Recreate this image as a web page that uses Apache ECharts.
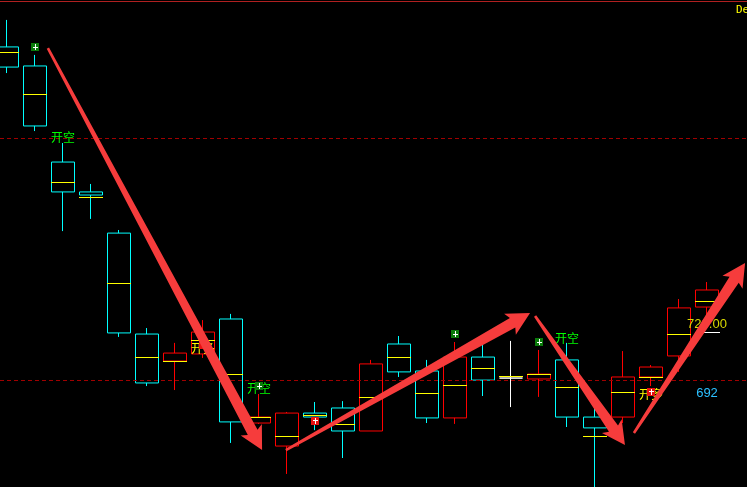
<!DOCTYPE html>
<html><head><meta charset="utf-8">
<script src="https://cdn.jsdelivr.net/npm/echarts@6/dist/echarts.min.js"></script>
<style>html,body{margin:0;padding:0;background:#000;}#c{width:747px;height:487px;}</style>
</head><body><div id="c"></div>
<script>
// ---- data ----
const categories = ['1','2','3','4','5','6','7','8','9','10','11','12','13','14','15','16','17','18','19','20','21','22','23','24','25','26','27'];
// [open, close, low, high]
const ohlc = [
  [848.8, 839.7, 837.0, 861.0],
  [840.2, 813.1, 810.8, 845.2],
  [796.8, 783.3, 765.6, 805.4],
  [783.3, 781.9, 771.1, 786.9],
  [764.7, 719.6, 717.8, 766.1],
  [719.1, 697.0, 695.6, 721.8],
  [706.9, 710.5, 693.8, 715.1],
  [710.1, 720.0, 708.3, 725.4],
  [725.9, 679.4, 669.9, 728.2],
  [678.9, 681.6, 678.5, 692.0],
  [668.5, 683.4, 655.9, 683.9],
  [683.4, 681.6, 675.7, 688.4],
  [685.7, 675.3, 663.1, 688.8],
  [675.3, 705.6, 675.3, 707.4],
  [714.6, 702.0, 699.7, 718.2],
  [702.4, 681.2, 678.9, 707.4],
  [681.2, 708.7, 678.5, 715.5],
  [708.7, 698.3, 691.1, 714.6],
  [699.2, 699.2, 686.1, 716.0],
  [698.8, 701.0, 690.7, 711.9],
  [707.4, 681.6, 677.1, 715.1],
  [681.6, 676.7, 646.4, 687.0],
  [681.6, 699.7, 678.9, 711.4],
  [699.7, 704.2, 695.6, 705.1],
  [709.2, 730.9, 702.0, 734.9],
  [731.3, 739.0, 726.3, 742.6],
  '-'
];
const midPrices = [846.5, 827.5, 787.8, 781.0, 742.2, 708.7, 706.9, 716.4, 701.0, 681.6, 673.0, 682.5, 678.5, 690.7, 708.7, 692.5, 696.1, 703.8, 700.1, 701.0, 695.2, 673.0, 692.9, 699.7, 719.1, 734.0];
const dashedLevels = [807.7, 698.3];
// [candle index, price, text, kind]
const signalLabels = [
  [2, 807.7, '开空', 'short'],
  [7, 712.8, '开多', 'long'],
  [9, 694.7, '开空', 'short'],
  [20, 717.3, '开空', 'short'],
  [23, 691.6, '开多', 'long']
];
// [candle index, price, kind]
const signalIcons = [
  [1, 848.8, 'sell'],
  [9, 695.6, 'sell'],
  [16, 719.1, 'sell'],
  [19, 715.5, 'sell'],
  [7, 714.1, 'buy'],
  [11, 679.8, 'buy'],
  [23, 692.9, 'buy']
];
// [candle index, price, text]
const priceMarks = [
  [25, 720, '720.00'],
  [25, 692, '692']
];
// [fromIndex, fromPrice, toIndex, toPrice]
const arrows = [
  [1.46, 848.3, 9.11, 666.7],
  [9.96, 666.7, 18.68, 728.6],
  [18.86, 727.2, 22.07, 669.0],
  [22.39, 674.4, 26.36, 751.2]
];

// ---- chart ----
const chart = echarts.init(document.getElementById('c'), null, {renderer: 'canvas'});
const CJK = '"Noto Sans CJK SC", sans-serif';

const option = {
  backgroundColor: '#000',
  animation: false,
  grid: {left: -7, top: 0, width: 756, height: 487, outerBoundsMode: 'none', containLabel: false},
  xAxis: [
    {type: 'category', data: categories, boundaryGap: true, show: false},
    {type: 'value', min: -0.5, max: 26.5, show: false}
  ],
  yAxis: {type: 'value', min: 650, max: 870, show: false, scale: true},
  graphic: [
    {type: 'rect', shape: {x: 0, y: 1, width: 747, height: 1}, style: {fill: '#b02020'}, z: 100},
    {type: 'text', x: 736, y: 5, style: {text: 'Dec', fill: '#ffff00', font: '11px "DejaVu Sans Mono", monospace'}, z: 100}
  ],
  series: [
    {
      type: 'candlestick',
      data: ohlc,
      barWidth: 24,
      itemStyle: {
        color: '#000', color0: '#000',
        borderColor: '#ff0000', borderColor0: '#00ffff',
        borderColorDoji: '#ffffff',
        borderWidth: 1
      },
      markLine: {
        symbol: 'none', silent: true, animation: false,
        label: {show: false},
        lineStyle: {color: '#a00000', type: [4, 3], width: 1},
        data: dashedLevels.map(v => ({yAxis: v}))
      },
      z: 2
    },
    {
      type: 'custom',
      data: midPrices.map((v, i) => [i, v]),
      renderItem: (params, api) => {
        const c = api.coord([api.value(0), api.value(1)]);
        const y = Math.round(c[1]) + 0.5;
        return {type: 'line', shape: {x1: c[0] - 12, y1: y, x2: c[0] + 12, y2: y},
          style: {stroke: '#ffff00', lineWidth: 1}};
      },
      z: 3
    },
    {
      type: 'custom',
      data: priceMarks,
      renderItem: (params, api) => {
        const c = api.coord([api.value(0), api.value(1)]);
        const txt = priceMarks[params.dataIndex][2];
        const first = params.dataIndex === 0;
        const children = [];
        if (first) {
          const y = Math.round(c[1]) + 0.5;
          children.push({type: 'line', shape: {x1: c[0] - 12, y1: y, x2: c[0] + 13, y2: y}, style: {stroke: '#ffffff', lineWidth: 1}});
          children.push({type: 'text', x: c[0], y: c[1] - 1, style: {text: txt, fill: '#d8d800', font: '13px "Liberation Sans", Arial, sans-serif', align: 'center', verticalAlign: 'bottom'}});
        } else {
          children.push({type: 'text', x: c[0], y: c[1] - 1, style: {text: txt, fill: '#2cc0ff', font: '13px "Liberation Sans", Arial, sans-serif', align: 'center', verticalAlign: 'middle'}});
        }
        return {type: 'group', children};
      },
      z: 4
    },
    {
      type: 'custom',
      data: signalLabels,
      renderItem: (params, api) => {
        const c = api.coord([api.value(0), api.value(1)]);
        const row = signalLabels[params.dataIndex];
        return {type: 'text', x: c[0], y: c[1], style: {text: row[2], fill: row[3] === 'short' ? '#00ff00' : '#ffff00', font: '12px ' + CJK, align: 'center', verticalAlign: 'middle'}};
      },
      z: 5
    },
    {
      type: 'custom',
      data: signalIcons,
      renderItem: (params, api) => {
        const c = api.coord([api.value(0), api.value(1)]);
        const sell = signalIcons[params.dataIndex][2] === 'sell';
        const x = Math.round(c[0]), y = Math.round(c[1]);
        const children = [
          {type: 'rect', shape: {x: x - 4, y: y - 4, width: 8, height: 8}, style: {fill: sell ? '#0a7a0a' : '#e81010'}},
          {type: 'line', shape: {x1: x + 0.5, y1: y - 3, x2: x + 0.5, y2: y + 3}, style: {stroke: '#fff', lineWidth: 1}},
          {type: 'line', shape: {x1: x - 2, y1: sell ? y + 0.5 : y - 0.5, x2: x + 3, y2: sell ? y + 0.5 : y - 0.5}, style: {stroke: '#fff', lineWidth: 1}}
        ];
        return {type: 'group', children};
      },
      z: 6
    },
    {
      type: 'custom',
      xAxisIndex: 1,
      data: arrows,
      encode: {x: [0, 2], y: [1, 3]},
      clip: false,
      renderItem: (params, api) => {
        const p0 = api.coord([api.value(0), api.value(1)]);
        const p1 = api.coord([api.value(2), api.value(3)]);
        const dx = p1[0] - p0[0], dy = p1[1] - p0[1], L = Math.hypot(dx, dy);
        const ux = dx / L, uy = dy / L, nx = -uy, ny = ux;
        const H = 20, W = 12, w0 = 1.3, w1 = 5.5, sw = 3;
        const bx = p1[0] - ux * H, by = p1[1] - uy * H;
        const pts = [
          [p0[0] + nx * w0, p0[1] + ny * w0],
          [bx + nx * w1, by + ny * w1],
          [bx + nx * W - ux * sw, by + ny * W - uy * sw],
          [p1[0], p1[1]],
          [bx - nx * W - ux * sw, by - ny * W - uy * sw],
          [bx - nx * w1, by - ny * w1],
          [p0[0] - nx * w0, p0[1] - ny * w0]
        ];
        return {type: 'polygon', shape: {points: pts}, style: {fill: '#f63c3c'}};
      },
      z: 10
    }
  ]
};
chart.setOption(option);
</script>
</body></html>
